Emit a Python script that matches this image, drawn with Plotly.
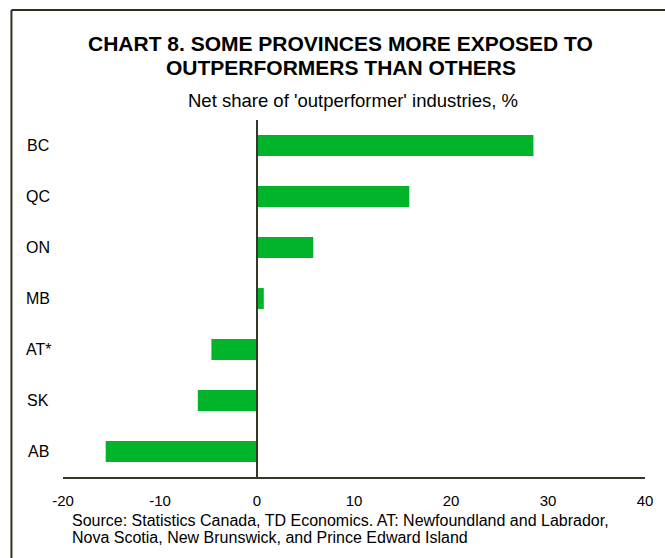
import plotly.graph_objects as go

# Provinces, top to bottom, and their net share of 'outperformer' industries (%)
provinces = ["BC", "QC", "ON", "MB", "AT*", "SK", "AB"]
net_share = [28.5, 15.7, 5.8, 0.7, -4.7, -6.1, -15.6]

x_ticks = [-20, -10, 0, 10, 20, 30, 40]

title_lines = ["CHART 8. SOME PROVINCES MORE EXPOSED TO",
               "OUTPERFORMERS THAN OTHERS"]
subtitle = "Net share of 'outperformer' industries, %"
source_lines = ["Source: Statistics Canada, TD Economics. AT: Newfoundland and Labrador,",
                "Nova Scotia, New Brunswick, and Prince Edward Island"]

W, H = 665, 558
M_L, M_R, M_T, M_B = 63, 15, 120, 81
PW, PH = W - M_L - M_R, H - M_T - M_B

BAR_GREEN = "#02B42A"
AXIS_DARK = "#33382b"
FONT = "Liberation Sans, Arial, sans-serif"


def px_x(px):
    return (px - M_L) / PW


def px_y(py):
    return (H - M_B - py) / PH


fig = go.Figure(
    go.Bar(
        x=net_share,
        y=provinces,
        orientation="h",
        marker=dict(color=BAR_GREEN, line=dict(width=0)),
        hoverinfo="x+y",
    )
)

annotations = []
# Two-line bold title
for text, py in zip(title_lines, [43, 67]):
    annotations.append(dict(
        text=f"<b>{text}</b>", xref="paper", yref="paper",
        x=px_x(343), y=px_y(py), xanchor="center", yanchor="middle",
        showarrow=False, font=dict(family=FONT, size=21, color="#000000"),
    ))
# Subtitle
annotations.append(dict(
    text=subtitle, xref="paper", yref="paper",
    x=px_x(355), y=px_y(101), xanchor="center", yanchor="middle",
    showarrow=False, font=dict(family=FONT, size=18.5, color="#000000"),
))
# Category labels on the left
for p in provinces:
    annotations.append(dict(
        text=p, xref="paper", yref="y", x=px_x(38), y=p,
        xanchor="center", yanchor="middle", showarrow=False,
        font=dict(family=FONT, size=16, color="#000000"),
    ))
# Source note
for text, py in zip(source_lines, [520, 537]):
    annotations.append(dict(
        text=text, xref="paper", yref="paper",
        x=px_x(70), y=px_y(py), xanchor="left", yanchor="middle",
        showarrow=False, font=dict(family=FONT, size=16, color="#000000"),
    ))

shapes = [
    # zero line
    dict(type="line", xref="x", yref="paper", x0=0, x1=0, y0=0, y1=1,
         line=dict(color=AXIS_DARK, width=2), layer="above"),
    # outer frame (left and top edges)
    dict(type="line", xref="paper", yref="paper",
         x0=px_x(11), x1=px_x(11), y0=px_y(10), y1=px_y(600),
         line=dict(color="#2b3120", width=2)),
    dict(type="line", xref="paper", yref="paper",
         x0=px_x(11), x1=px_x(700), y0=px_y(10), y1=px_y(10),
         line=dict(color="#2b3120", width=2)),
]

fig.update_layout(
    width=W, height=H,
    margin=dict(l=M_L, r=M_R, t=M_T, b=M_B),
    paper_bgcolor="white", plot_bgcolor="white",
    showlegend=False,
    bargap=0.59,
    annotations=annotations,
    shapes=shapes,
    font=dict(family=FONT, color="#000000"),
)
fig.update_xaxes(
    range=[-20, 40], tickvals=x_ticks, ticktext=[str(v) for v in x_ticks],
    showgrid=False, zeroline=False,
    showline=True, linecolor=AXIS_DARK, linewidth=2,
    ticks="", ticklabelstandoff=9,
    tickfont=dict(family=FONT, size=15, color="#000000"),
    fixedrange=True,
)
fig.update_yaxes(
    categoryorder="array", categoryarray=provinces, autorange="reversed",
    showgrid=False, zeroline=False, showline=False,
    showticklabels=False, ticks="", fixedrange=True,
)

fig.write_html("out.html")
